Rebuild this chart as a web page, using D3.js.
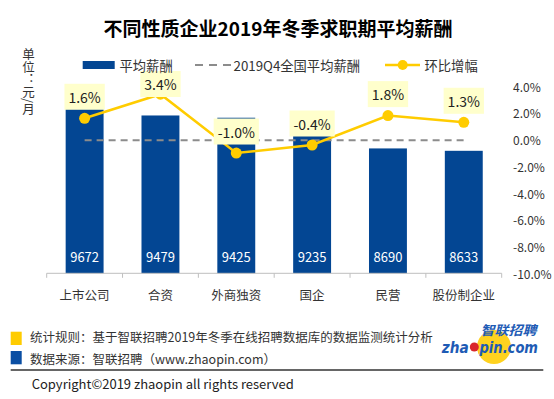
<!DOCTYPE html>
<html><head><meta charset="utf-8">
<script src="https://cdn.jsdelivr.net/npm/d3@7"></script>
<style>
body{margin:0;background:#fff;}
svg{display:block;font-family:"Microsoft YaHei","Noto Sans CJK SC","Noto Sans",sans-serif;}
</style></head>
<body><svg id="c" width="554" height="399"></svg>
<script>
const categories = ["上市公司","合资","外商独资","国企","民营","股份制企业"];
const salary = [9672, 9479, 9425, 9235, 8690, 8633];
const growth = [1.6, 3.4, -1.0, -0.4, 1.8, 1.3];
const nationalAvg = 8885;
const rightTicks = [-10, -8, -6, -4, -2, 0, 2, 4];
const titleText = "不同性质企业2019年冬季求职期平均薪酬";
const legendLabels = ["平均薪酬", "2019Q4全国平均薪酬", "环比增幅"];
const unitText = "单位：元/月";
const noteLines = ["统计规则：基于智联招聘2019年冬季在线招聘数据库的数据监测统计分析", "数据来源：智联招聘（www.zhaopin.com）"];
const copyright = "Copyright©2019 zhaopin all rights reserved";
const logoCn = "智联招聘", logoA = "zha", logoB = "pin.com";

const BLUE = "#034693", YEL = "#FFCC00", BOX = "#FFFFCC", TXT = "#333";
const svg = d3.select("#c");

const x = d3.scaleBand().domain(categories).range([46.7, 501.7]).paddingInner(0.5).paddingOuter(0.25);
const yL = d3.scaleLinear().domain([5700, 10180]).range([273.3, 86.2]);
const yR = d3.scaleLinear().domain([-10, 4]).range([273.3, 86.2]);
const cx = c => x(c) + x.bandwidth() / 2;

// title
svg.append("text").attr("x", 278).attr("y", 27).attr("text-anchor", "middle")
  .attr("dominant-baseline", "central").attr("font-size", 19).attr("font-weight", "bold")
  .attr("fill", "#000").text(titleText);

// unit (vertical)
svg.append("text").attr("x", 28.5).attr("y", 48)
  .style("writing-mode", "vertical-rl").attr("font-size", 12.5).attr("fill", TXT)
  .text(unitText);

// bars
svg.selectAll("rect.bar").data(categories).join("rect").attr("class", "bar")
  .attr("x", c => x(c)).attr("width", x.bandwidth())
  .attr("y", (c, i) => yL(salary[i])).attr("height", (c, i) => yL.range()[0] - yL(salary[i]))
  .attr("fill", BLUE);
svg.selectAll("text.val").data(categories).join("text").attr("class", "val")
  .attr("x", cx).attr("y", 256).attr("text-anchor", "middle").attr("dominant-baseline", "central")
  .attr("font-size", 13).attr("fill", "#fff").text((c, i) => salary[i]);

// x axis
const y0 = yL.range()[0];
svg.append("line").attr("x1", x.range()[0]).attr("x2", x.range()[1]).attr("y1", y0).attr("y2", y0)
  .attr("stroke", "#bfbfbf").attr("stroke-width", 1);
const tickXs = categories.map(c => cx(c) - x.step() / 2).concat([x.range()[1]]);
svg.selectAll("line.tk").data(tickXs).join("line").attr("class", "tk")
  .attr("x1", d => d).attr("x2", d => d).attr("y1", y0).attr("y2", y0 + 4.5)
  .attr("stroke", "#bfbfbf").attr("stroke-width", 1);
svg.selectAll("text.cat").data(categories).join("text").attr("class", "cat")
  .attr("x", cx).attr("y", 294).attr("text-anchor", "middle").attr("dominant-baseline", "central")
  .attr("font-size", 12.5).attr("fill", TXT).text(c => c);

// right axis labels
svg.selectAll("text.rt").data(rightTicks).join("text").attr("class", "rt")
  .attr("x", 513).attr("y", d => yR(d)).attr("dominant-baseline", "central")
  .attr("font-size", 12).attr("fill", TXT).text(d => d.toFixed(1) + "%");

// national average dashed line
svg.append("line").attr("x1", cx(categories[0])).attr("x2", cx(categories[5]))
  .attr("y1", yL(nationalAvg)).attr("y2", yL(nationalAvg))
  .attr("stroke", "#8c8c8c").attr("stroke-width", 2).attr("stroke-dasharray", "7,5");

// growth line
const line = d3.line().x((d, i) => cx(categories[i])).y(d => yR(d));
svg.append("path").datum(growth).attr("d", line).attr("fill", "none")
  .attr("stroke", YEL).attr("stroke-width", 2.5);
svg.selectAll("circle.pt").data(growth).join("circle").attr("class", "pt")
  .attr("cx", (d, i) => cx(categories[i])).attr("cy", d => yR(d)).attr("r", 5.5).attr("fill", YEL);

// growth labels with boxes
const lg = svg.selectAll("g.lab").data(growth).join("g").attr("class", "lab");
lg.each(function (d, i) {
  const g = d3.select(this);
  const h = 26;
  let cy = yR(d) - 21.5;
  if (cy - h / 2 < 71) cy = 71 + h / 2;
  const t = g.append("text").attr("x", cx(categories[i])).attr("y", cy)
    .attr("text-anchor", "middle").attr("dominant-baseline", "central")
    .attr("font-size", 14).attr("fill", "#222").text(d.toFixed(1) + "%");
  const w = t.node().getComputedTextLength() + 8;
  g.insert("rect", "text").attr("x", cx(categories[i]) - w / 2).attr("y", cy - h / 2)
    .attr("width", w).attr("height", h).attr("fill", BOX);
});

// legend
const ly = 65;
svg.append("rect").attr("x", 82.7).attr("y", ly - 4).attr("width", 32).attr("height", 8).attr("fill", BLUE);
svg.append("text").attr("x", 119.5).attr("y", ly).attr("dominant-baseline", "central")
  .attr("font-size", 13.3).attr("fill", TXT).text(legendLabels[0]);
svg.append("line").attr("x1", 195).attr("x2", 231).attr("y1", ly).attr("y2", ly)
  .attr("stroke", "#8c8c8c").attr("stroke-width", 2).attr("stroke-dasharray", "8,6");
svg.append("text").attr("x", 233.5).attr("y", ly).attr("dominant-baseline", "central")
  .attr("font-size", 13.3).attr("fill", TXT).text(legendLabels[1]);
svg.append("line").attr("x1", 385).attr("x2", 420).attr("y1", ly).attr("y2", ly)
  .attr("stroke", YEL).attr("stroke-width", 2.5);
svg.append("circle").attr("cx", 402.7).attr("cy", ly).attr("r", 5).attr("fill", YEL);
svg.append("text").attr("x", 424.5).attr("y", ly).attr("dominant-baseline", "central")
  .attr("font-size", 13.3).attr("fill", TXT).text(legendLabels[2]);

// footer notes
svg.append("rect").attr("x", 10.7).attr("y", 331.7).attr("width", 11).attr("height", 13.3).attr("fill", YEL);
svg.append("rect").attr("x", 10.7).attr("y", 351).attr("width", 11).attr("height", 13.3).attr("fill", "#0A4EA3");
svg.selectAll("text.note").data(noteLines).join("text").attr("class", "note")
  .attr("x", 30).attr("y", (d, i) => i === 0 ? 336.5 : 358)
  .attr("dominant-baseline", "central").attr("font-size", 12.5).attr("fill", TXT).text(d => d);
svg.append("line").attr("x1", 10.7).attr("x2", 543.3).attr("y1", 370).attr("y2", 370)
  .attr("stroke", "#333").attr("stroke-width", 1.5);
svg.append("text").attr("x", 31.7).attr("y", 383.5).attr("dominant-baseline", "central")
  .attr("font-size", 13).attr("fill", "#222").text(copyright);

// logo
svg.append("circle").attr("cx", 494).attr("cy", 347).attr("r", 17).attr("fill", "#FFD21F");
svg.append("text").attr("x", 480.5).attr("y", 329).attr("dominant-baseline", "central")
  .attr("font-size", 13).attr("font-weight", "bold").attr("font-style", "italic")
  .attr("textLength", 56).attr("lengthAdjust", "spacingAndGlyphs")
  .attr("fill", "#1E5BB5").text(logoCn);
const logoFont = "Verdana,'DejaVu Sans',sans-serif";
svg.append("text").attr("x", 441.7).attr("y", 348).attr("dominant-baseline", "central")
  .attr("font-size", 15).attr("font-weight", "bold").attr("font-style", "italic")
  .attr("font-family", logoFont).attr("textLength", 27).attr("lengthAdjust", "spacingAndGlyphs")
  .attr("fill", "#1E5BB5").text(logoA);
svg.append("text").attr("x", 479.5).attr("y", 348).attr("dominant-baseline", "central")
  .attr("font-size", 15).attr("font-weight", "bold").attr("font-style", "italic")
  .attr("font-family", logoFont).attr("textLength", 58.5).attr("lengthAdjust", "spacingAndGlyphs")
  .attr("fill", "#1E5BB5").text(logoB);
svg.append("circle").attr("cx", 474.3).attr("cy", 347).attr("r", 4.5).attr("fill", "#D9262B");
</script></body></html>
